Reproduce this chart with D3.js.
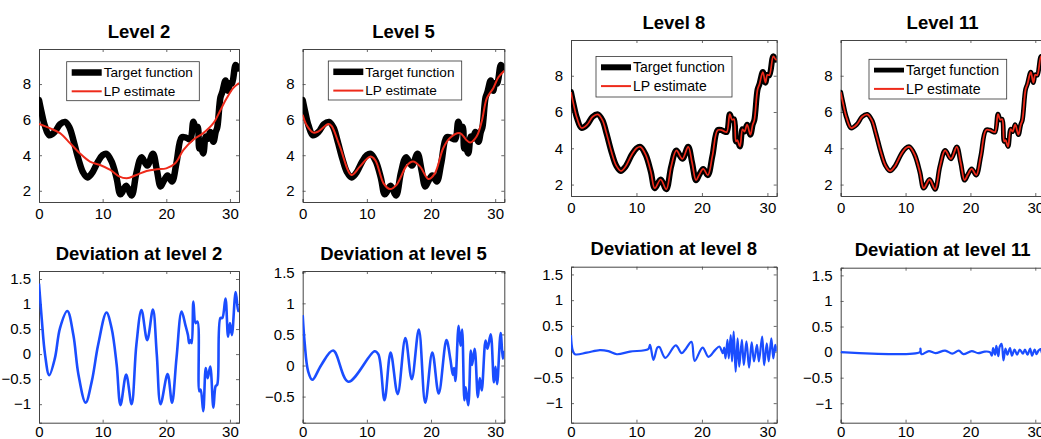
<!DOCTYPE html>
<html>
<head>
<meta charset="utf-8">
<script src="https://cdn.jsdelivr.net/npm/d3@7"></script>
<style>
  body { margin: 0; background: #fff; }
  svg { display: block; }
  text { font-family: "Liberation Sans", Arial, Helvetica, sans-serif; fill: #000; }
</style>
</head>
<body>
<svg id="chart" width="1041" height="439"></svg>
<script>
// values, as [x, y] pairs
var target = [[0,7.1],[0.4,6.42],[0.9,5.68],[1.6,5.12],[2.5,5.32],[3.3,5.74],[4.1,5.87],[4.8,5.55],[5.4,4.85],
  [6.2,3.78],[6.9,3.05],[7.6,2.75],[8.3,2.98],[9.3,3.66],[10.0,4.0],[10.6,4.08],[11.4,3.65],[12.2,2.7],[12.8,1.8],
  [13.7,2.28],[14.55,1.74],[15.3,3.0],[16.1,3.88],[17.0,3.42],[17.9,4.08],[18.5,3.2],[19.1,2.24],[19.6,2.55],
  [20.2,2.86],[20.9,2.52],[21.6,3.58],[22.4,5.0],[23.0,5.0],[23.4,4.93],[23.8,4.9],[24.25,5.88],[24.6,5.57],
  [24.9,5.6],[25.2,4.38],[25.4,4.45],[25.8,4.1],[26.2,5.05],[26.5,4.92],[26.9,5.3],[27.4,4.75],[27.75,5.3],
  [28.0,5.55],[28.5,7.24],[28.8,7.55],[29.3,8.2],[29.7,7.62],[30.0,8.05],[30.3,8.03],[30.9,9.07],[31.3,8.88],[31.42,8.92]];

var lp2 = [[0,5.76],[1.7,5.52],[3.3,5.24],[4.9,4.67],[6.4,4.11],[8.0,3.64],[9.6,3.45],[11.2,3.17],[12.5,2.83],
  [13.8,2.7],[15.3,2.89],[16.9,3.11],[18.5,3.21],[20.0,3.26],[21.4,3.55],[22.7,4.3],[24.2,4.86],[25.8,5.24],
  [27.4,5.8],[28.4,6.46],[29.5,7.21],[30.5,7.77],[31.42,8.06]];

var lp5 = [[0,6.27],[0.6,5.7],[1.66,5.27],[2.4,5.33],[4.0,5.76],[4.5,5.65],[5.8,4.48],[7.6,2.89],[8.9,3.36],
  [10.5,3.92],[11.3,3.73],[12.6,2.42],[13.6,2.1],[14.6,2.32],[16.2,3.41],[17.2,3.64],[18.3,3.36],[19.6,2.66],
  [20.6,2.98],[21.9,4.39],[22.9,4.95],[24.5,5.24],[25.5,4.86],[26.1,4.71],[27.1,5.05],[27.9,5.89],[28.7,7.21],
  [29.7,7.77],[30.5,8.38],[31.42,8.75]];

// at levels 8 and 11 the estimate is indistinguishable from the target in the picture
var lp8 = target;
var lp11 = target;

var dev2 = [[0,1.41],[0.42,0.72],[0.94,0],[1.6,-0.42],[2.5,-0.08],[3.3,0.52],[4.45,0.86],[5.4,0.38],[6.2,-0.41],
  [7.33,-0.97],[8.3,-0.54],[9.3,0.19],[10.6,0.83],[11.4,0.52],[12.2,-0.21],[12.8,-1.02],[13.7,-0.41],[14.55,-1.0],
  [15.3,0.19],[16.1,0.88],[17.0,0.28],[17.9,0.89],[18.5,0],[19.1,-1.0],[20.2,-0.4],[20.9,-0.97],[21.6,-0.08],
  [22.4,0.85],[23.0,0.58],[23.4,0.38],[23.6,0.22],[23.8,0.28],[24.0,0.22],[24.25,1.05],[24.6,0.62],[24.9,0.65],
  [25.2,-0.74],[25.4,-0.71],[25.8,-1.14],[26.2,-0.28],[26.5,-0.48],[26.9,-0.25],[27.4,-1.07],[27.75,-0.64],
  [28.0,-0.61],[28.5,0.72],[28.8,0.72],[29.3,1.11],[29.7,0.35],[30.0,0.62],[30.3,0.38],[30.9,1.24],[31.3,0.86],[31.42,0.88]];

var dev5 = [[0,0.81],[0.3,0.37],[0.84,-0.09],[1.5,-0.23],[2.9,0.01],[4.75,0.24],[7.1,-0.26],[11.2,0.23],[11.8,0.18],
  [12.75,-0.56],[13.7,0.21],[14.8,-0.46],[16.0,0.44],[17.0,-0.22],[18.1,0.58],[19.1,-0.6],[20.2,0.21],[21.2,-0.45],
  [22.4,0.41],[23.0,0.11],[23.4,-0.15],[23.6,-0.04],[23.8,-0.25],[24.3,0.64],[24.6,0.32],[24.85,0.58],[25.2,-0.56],
  [25.4,-0.35],[25.8,-0.64],[26.2,0.24],[26.4,0.01],[26.8,0.27],[27.3,-0.51],[27.6,-0.2],[27.9,-0.4],[28.5,0.4],
  [28.8,0.27],[29.3,0.5],[29.8,-0.27],[30.05,-0.02],[30.3,-0.3],[30.85,0.52],[31.2,0.11],[31.42,0.24]];

var dev8 = [[0,0.32],[0.25,0.03],[0.6,-0.05],[2.4,-0.02],[4.4,0.03],[5.7,0.01],[7.0,-0.05],[9.0,0],[11.8,0.05],
  [12.07,0.13],[12.6,-0.16],[13.2,0.08],[13.5,0.09],[14.4,-0.12],[16.0,0.12],[16.9,-0.03],[17.4,0.03],[18.4,0.19],
  [18.9,-0.18],[20.1,0.08],[21.0,-0.1],[22.0,0.03],[22.65,0.1],[23.2,-0.03],[23.4,0.08],[23.6,-0.13],[23.9,0.23],
  [24.1,-0.13],[24.4,0.32],[24.6,-0.19],[24.85,0.39],[25.15,-0.39],[25.45,0.26],[25.7,-0.29],[26.1,0.23],
  [26.4,-0.26],[26.8,0.2],[27.2,-0.31],[27.6,0.18],[27.95,-0.19],[28.4,0.13],[28.7,-0.19],[29.2,0.29],[29.5,-0.26],
  [29.9,0.16],[30.2,-0.19],[30.6,0.26],[30.9,-0.13],[31.2,0.13],[31.42,0]];

var dev11 = [[0,0],[12.2,0],[12.3,0.07],[12.45,-0.04],[13.6,0.02],[14.6,-0.02],[16.1,0.03],[17.2,-0.03],[18.2,0.03],
  [18.9,-0.04],[20.2,0.02],[21.2,-0.02],[22.2,0.01],[23.0,0],[23.3,-0.07],[23.5,0.08],[23.8,-0.05],[24.0,0.12],
  [24.3,-0.08],[24.5,0.1],[24.8,0.16],[25.1,-0.16],[25.4,0.07],[25.7,-0.05],[26.1,0.08],[26.4,-0.07],[26.8,0.05],
  [27.2,-0.05],[27.6,0.05],[28.1,-0.03],[28.4,0.05],[28.8,-0.05],[29.2,0.07],[29.5,-0.07],[29.9,0.05],[30.2,-0.04],
  [30.5,0.03],[30.8,0.06],[31.1,-0.03],[31.42,0.02]];

var levels = [2, 5, 8, 11];
var xTicks = [0, 10, 20, 30];
var levelTicks = [2, 4, 6, 8];
var devTicks = [-1, -0.5, 0, 0.5, 1, 1.5];
var devTicks5 = [-0.5, 0, 0.5, 1, 1.5];
var legendLabels = ["Target function", "LP estimate"];

var xMax = 31.42;
var lpData = [lp2, lp5, lp8, lp11];
var devData = [dev2, dev5, dev8, dev11];

// layout of the eight axes (pixels)
var topBoxes = [
  {L: 39, R: 239, T: 49, B: 202, lw: 6.5, rw: 2, leg: {x: 66.7, y: 61.7, w: 132.6, h: 39, fs: 13.6}},
  {L: 302.7, R: 504.3, T: 49, B: 202, lw: 6.5, rw: 2, leg: {x: 328.3, y: 61, w: 133.4, h: 39, fs: 13.6}},
  {L: 571, R: 776.7, T: 40, B: 196, lw: 6, rw: 1.7, leg: {x: 596, y: 56.5, w: 136, h: 40.5, fs: 14}},
  {L: 840.7, R: 1044.5, T: 40, B: 196, lw: 4.8, rw: 1.8, leg: {x: 869, y: 59.3, w: 137.7, h: 39.7, fs: 14.2}}
];
var botBoxes = [
  {L: 39, R: 239, T: 271, B: 422.7, dom: [-1.37, 1.66], ticks: devTicks, lw: 2.6},
  {L: 302.7, R: 504.3, T: 271, B: 422.7, dom: [-0.92, 1.52], ticks: devTicks5, lw: 2.6},
  {L: 571, R: 776.7, T: 266.7, B: 422.7, dom: [-1.38, 1.65], ticks: devTicks, lw: 2.2},
  {L: 840.7, R: 1044.5, T: 267.7, B: 422.7, dom: [-1.38, 1.65], ticks: devTicks, lw: 2.2}
];

var RED = "#ee2a1a", BLUE = "#1a4dff";
var svg = d3.select("#chart");
svg.append("rect").attr("width", 1041).attr("height", 439).attr("fill", "#fff");

var fmt = d3.format("");
var clipId = 0;

function drawAxes(box, yDomain, yTicks, title, xPad) {
  var x = d3.scaleLinear().domain([0, xMax]).range([box.L, box.R]);
  var y = d3.scaleLinear().domain(yDomain).range([box.B, box.T]);
  var g = svg.append("g");

  g.append("rect").attr("x", box.L).attr("y", box.T)
    .attr("width", box.R - box.L).attr("height", box.B - box.T).attr("fill", "#fff");

  var id = "clip" + (clipId++);
  g.append("clipPath").attr("id", id).append("rect")
    .attr("x", box.L).attr("y", box.T).attr("width", box.R - box.L).attr("height", box.B - box.T);

  g.append("text").attr("x", (box.L + box.R) / 2).attr("y", box.T - 11.5)
    .attr("text-anchor", "middle").attr("font-size", 18.5).attr("font-weight", "bold").text(title);

  var tl = 3;
  g.append("g").attr("transform", "translate(0," + box.B + ")")
    .call(d3.axisBottom(x).tickValues(xTicks).tickFormat(fmt).tickSize(-tl).tickPadding(xPad))
    .call(styleAxis);
  g.append("g").attr("transform", "translate(0," + box.T + ")")
    .call(d3.axisTop(x).tickValues(xTicks).tickFormat("").tickSize(-tl))
    .call(styleAxis);
  g.append("g").attr("transform", "translate(" + box.L + ",0)")
    .call(d3.axisLeft(y).tickValues(yTicks).tickFormat(fmt).tickSize(-tl).tickPadding(8))
    .call(styleAxis);
  g.append("g").attr("transform", "translate(" + box.R + ",0)")
    .call(d3.axisRight(y).tickValues(yTicks).tickFormat("").tickSize(-tl))
    .call(styleAxis);

  var plot = g.append("g").attr("clip-path", "url(#" + id + ")");
  return {x: x, y: y, g: g, plot: plot};
}

function styleAxis(sel) {
  sel.select(".domain").attr("stroke", "#444").attr("stroke-width", 1);
  sel.selectAll(".tick line").attr("stroke", "#444").attr("stroke-width", 0.8);
  sel.selectAll(".tick text").attr("font-size", 15).attr("fill", "#000")
    .attr("font-family", "'Liberation Sans', Arial, Helvetica, sans-serif");
}

function lineGen(ax) {
  return d3.line().x(function (d) { return ax.x(d[0]); }).y(function (d) { return ax.y(d[1]); })
    .curve(d3.curveCatmullRom.alpha(0.5));
}

levels.forEach(function (lev, i) {
  var box = topBoxes[i];
  var ax = drawAxes(box, [1.37, 9.97], levelTicks, "Level " + lev, 6);
  var line = lineGen(ax);
  ax.plot.append("path").datum(target).attr("d", line)
    .attr("fill", "none").attr("stroke", "#000").attr("stroke-width", box.lw)
    .attr("stroke-linejoin", "round").attr("stroke-linecap", "round");
  ax.plot.append("path").datum(lpData[i]).attr("d", line)
    .attr("fill", "none").attr("stroke", RED).attr("stroke-width", box.rw);

  // legend
  var lg = box.leg;
  var leg = ax.g.append("g");
  leg.append("rect").attr("x", lg.x).attr("y", lg.y).attr("width", lg.w).attr("height", lg.h)
    .attr("fill", "#fff").attr("stroke", "#333").attr("stroke-width", 0.8);
  legendLabels.forEach(function (lab, k) {
    var yy = lg.y + 10.8 + k * 18.8;
    leg.append("line").attr("x1", lg.x + 5).attr("x2", lg.x + 35).attr("y1", yy).attr("y2", yy)
      .attr("stroke", k === 0 ? "#000" : RED).attr("stroke-width", k === 0 ? box.lw : 2);
    leg.append("text").attr("x", lg.x + 37).attr("y", yy).attr("dy", "0.36em")
      .attr("font-size", lg.fs).text(lab);
  });

  var bb = botBoxes[i];
  var ax2 = drawAxes(bb, bb.dom, bb.ticks, "Deviation at level " + lev, 3.5);
  ax2.plot.append("path").datum(devData[i]).attr("d", lineGen(ax2))
    .attr("fill", "none").attr("stroke", BLUE).attr("stroke-width", bb.lw)
    .attr("stroke-linejoin", "round");
});
</script>
</body>
</html>
